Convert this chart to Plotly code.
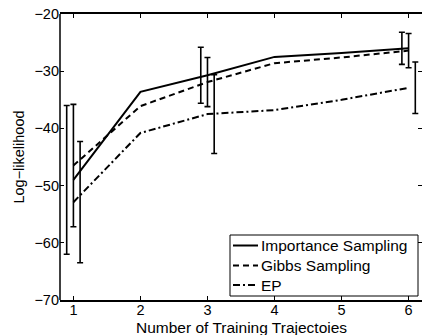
import plotly.graph_objects as go

# Number of training trajectories
n_traj = [1, 2, 3, 4, 5, 6]

# Mean log-likelihood per method
importance = [-49.0, -33.6, -30.7, -27.5, -26.8, -26.0]
gibbs = [-46.5, -36.1, -31.9, -28.6, -27.6, -26.4]
ep = [-52.9, -40.8, -37.5, -36.8, -35.0, -32.9]

# Error bars are reported only at these trajectory counts
err_x = [1, 3, 6]
importance_err = [13.0, 4.9, 2.8]
gibbs_err = [10.7, 4.3, 3.0]
ep_err = [10.6, 6.9, 4.5]

method_names = ["Importance Sampling", "Gibbs Sampling", "EP"]

font = "Liberation Sans, Arial, Helvetica, sans-serif"

W, H = 422, 335
ML, MR, MT, MB = 60, 0, 14, 35
PW, PH = W - ML - MR, H - MT - MB

series = [
    (method_names[0], importance, importance_err, "solid", -0.1),
    (method_names[1], gibbs, gibbs_err, "6px,4px", 0.0),
    (method_names[2], ep, ep_err, "7px,3px,2px,3px", 0.1),
]

fig = go.Figure()

for name, vals, errs, dash, shift in series:
    fig.add_trace(go.Scatter(
        x=n_traj, y=vals, mode="lines", name=name,
        line=dict(color="black", width=2, dash=dash),
        showlegend=False,
    ))

# Error bars, nudged sideways so they do not overlap
for name, vals, errs, dash, shift in series:
    ys = [vals[n_traj.index(k)] for k in err_x]
    fig.add_trace(go.Scatter(
        x=[k + shift for k in err_x], y=ys, mode="markers",
        marker=dict(size=0.1, color="rgba(0,0,0,0)"),
        error_y=dict(type="data", array=errs, visible=True,
                     color="black", thickness=1.6, width=3),
        showlegend=False, hoverinfo="skip",
    ))

tickfont = dict(family=font, size=14.5, color="black")

fig.update_xaxes(
    range=[0.8, 6.2], tickvals=n_traj,
    showline=True, linecolor="black", linewidth=1.5, mirror="ticks",
    ticks="inside", ticklen=4, tickwidth=1, tickcolor="black",
    showgrid=False, zeroline=False, tickfont=tickfont,
    ticklabelstandoff=-4,
)
fig.update_yaxes(
    range=[-70, -20], tickvals=[-70, -60, -50, -40, -30, -20],
    showline=False, mirror="ticks",
    ticks="inside", ticklen=4, tickwidth=1, tickcolor="black",
    showgrid=False, zeroline=False, tickfont=tickfont,
    title=dict(text="Log\u2212likelihood",
               font=dict(family=font, size=14.5, color="black"),
               standoff=6),
)


def px_x(p):
    return (p - ML) / PW


def px_y(p):
    return (H - MB - p) / PH


shapes = [
    # left frame edge
    dict(type="line", xref="paper", yref="paper", x0=0, x1=0, y0=0, y1=1,
         line=dict(color="black", width=1.5)),
    # legend box
    dict(type="rect", xref="paper", yref="paper",
         x0=px_x(230), x1=px_x(418), y0=px_y(296), y1=px_y(235),
         line=dict(color="black", width=1), fillcolor="white", layer="above"),
]
annotations = [
    # x-axis title, sitting on the bottom edge of the figure
    dict(text="Number of Training Trajectoies", xref="paper", yref="paper",
         x=0.5, y=px_y(H), xanchor="center", yanchor="bottom", yshift=-2,
         borderpad=0,
         showarrow=False, font=dict(family=font, size=15.5, color="black")),
]
row_y = [245.5, 265.5, 285]
for (name, vals, errs, dash, shift), ry in zip(series, row_y):
    shapes.append(dict(
        type="line", xref="paper", yref="paper",
        x0=px_x(233), x1=px_x(258), y0=px_y(ry), y1=px_y(ry),
        line=dict(color="black", width=2, dash=dash), layer="above"))
    annotations.append(dict(
        text=name, xref="paper", yref="paper", x=px_x(259), y=px_y(ry),
        xanchor="left", yanchor="middle", showarrow=False,
        font=dict(family=font, size=15.5, color="black")))

fig.update_layout(
    width=W, height=H,
    margin=dict(l=ML, r=MR, t=MT, b=MB),
    paper_bgcolor="white", plot_bgcolor="white",
    font=dict(family=font, color="black"),
    showlegend=False,
    shapes=shapes, annotations=annotations,
)

fig.write_html("out.html")
